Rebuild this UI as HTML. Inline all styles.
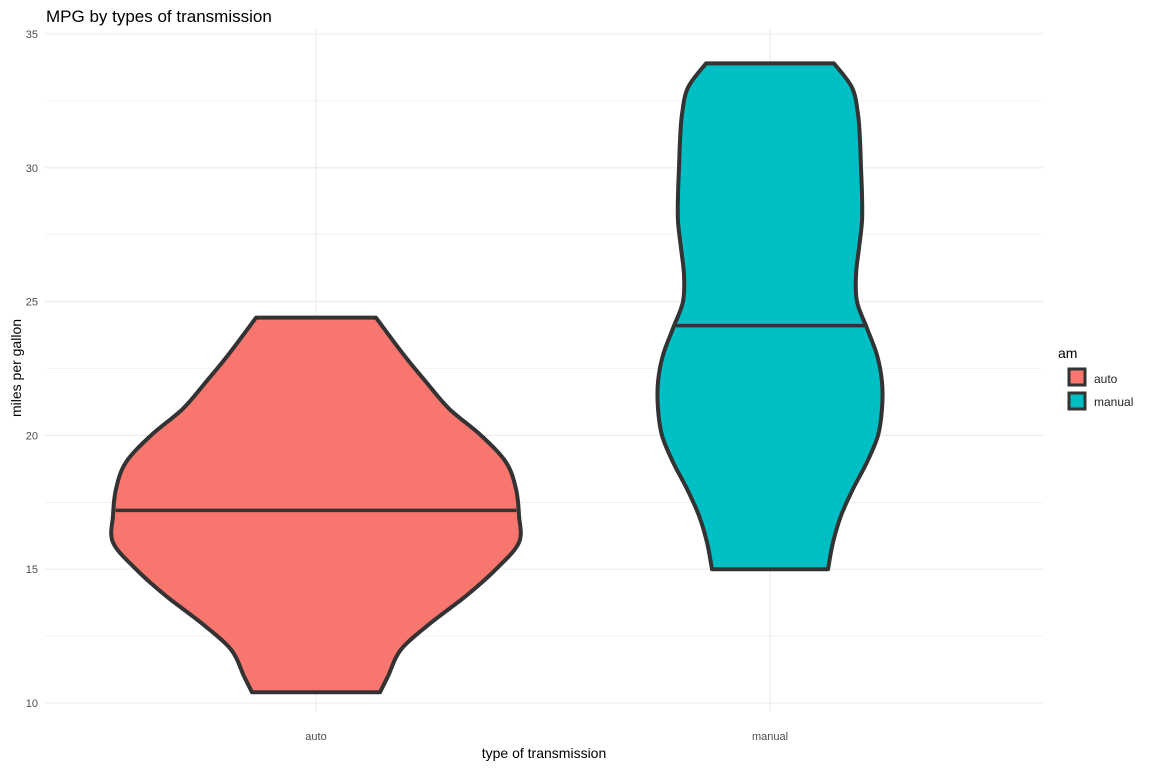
<!DOCTYPE html>
<html><head><meta charset="utf-8">
<style>
body{margin:0;background:#fff;font-family:"Liberation Sans",sans-serif}
svg text{font-family:"Liberation Sans",sans-serif}
</style></head>
<body>
<svg id="c" width="1152" height="768">
<text x="46" y="22" font-size="17" fill="#000">MPG by types of transmission</text>
<g id="grid"></g>
<g id="marks"></g>
<g id="axes"></g>
<text x="544" y="758" font-size="14" text-anchor="middle" fill="#000">type of transmission</text>
<text transform="translate(21,368) rotate(-90)" font-size="14" text-anchor="middle" fill="#000">miles per gallon</text>
<g>
<text x="1058" y="358" font-size="14">am</text>
<rect x="1069" y="369" width="16" height="16" fill="#F8766D" stroke="#333" stroke-width="3"/>
<text x="1094" y="383" font-size="12" fill="#222">auto</text>
<rect x="1069" y="393" width="16" height="16" fill="#00BFC4" stroke="#333" stroke-width="3"/>
<text x="1094" y="406" font-size="12" fill="#222">manual</text>
</g>
</svg>
<script>
const categories=["auto","manual"];
const colors=["#F8766D","#00BFC4"];
const medians=[17.2,24.1];
const autoMpg=[10.4,11,12,13,14,15,16,17,18,19,20,21,22,23,24.4];
const autoDensity=[64,72,85,115,150,180,203,203,200,190,165,133,110,88,60];
const manualMpg=[15,16,17,18,19,20,21,22,23,24,25,26,27,28,29,30,31,32,33,33.9];
const manualDensity=[58,63,71,83,97,108,112,112,107,97,87,86,89,92,92,91,90,88,82,64];
const yTicks=[10,15,20,25,30,35];
const NS="http://www.w3.org/2000/svg";
const y=v=>703-(v-10)*26.76;
const xc=[316,770];
const X0=45,X1=1043;
function mk(t,a,p){const e=document.createElementNS(NS,t);for(const k in a)e.setAttribute(k,a[k]);p.appendChild(e);return e;}
const grid=document.getElementById('grid'),axes=document.getElementById('axes'),marks=document.getElementById('marks');
for(let v=10;v<=35;v+=2.5){const l=mk('line',{x1:X0,x2:X1,y1:y(v),y2:y(v),stroke:'#ebebeb','stroke-width':v%5===0?1.1:0.6},grid);

}
xc.forEach(x=>{const l=mk('line',{x1:x,x2:x,y1:28,y2:712,stroke:'#ebebeb','stroke-width':1.1},grid);

});
yTicks.forEach(v=>{const t=mk('text',{x:38,y:y(v)+4,'font-size':11,'text-anchor':'end',fill:'#4d4d4d'},axes);t.textContent=v;

});
categories.forEach((c,i)=>{const t=mk('text',{x:xc[i],y:740,'font-size':11,'text-anchor':'middle',fill:'#4d4d4d'},axes);t.textContent=c;

});
function smooth(pts){let d='M'+pts[0][0]+','+pts[0][1];
for(let i=0;i<pts.length-1;i++){const p0=pts[Math.max(0,i-1)],p1=pts[i],p2=pts[i+1],p3=pts[Math.min(pts.length-1,i+2)];
d+=' C'+(p1[0]+(p2[0]-p0[0])/6)+','+(p1[1]+(p2[1]-p0[1])/6)+' '+(p2[0]-(p3[0]-p1[0])/6)+','+(p2[1]-(p3[1]-p1[1])/6)+' '+p2[0]+','+p2[1];}
return d;}
function interp(ms,ds,v){for(let i=0;i<ms.length-1;i++){if(v>=ms[i]&&v<=ms[i+1]){const f=(v-ms[i])/(ms[i+1]-ms[i]);return ds[i]+f*(ds[i+1]-ds[i]);}}return ds[ds.length-1];}
[[autoMpg,autoDensity],[manualMpg,manualDensity]].forEach(([ms,ds],i)=>{
const cx=xc[i];
const right=ms.map((m,j)=>[cx+ds[j],y(m)]);
const left=ms.map((m,j)=>[cx-ds[j],y(m)]).reverse();
let d=smooth(right).replace('M','M'+(cx-ds[0])+','+y(ms[0])+' L');
d+=' L'+left[0][0]+','+left[0][1]+smooth(left).replace(/^M[^ ]+/,'')+' Z';
const p=mk('path',{d:d,fill:colors[i],stroke:'#333','stroke-width':4,'stroke-linejoin':'round'},marks);


const w=interp(ms,ds,medians[i]);
const l=mk('line',{x1:cx-w+2,x2:cx+w-2,y1:y(medians[i]),y2:y(medians[i]),stroke:'#333','stroke-width':3.5},marks);


});
</script>
</body></html>
